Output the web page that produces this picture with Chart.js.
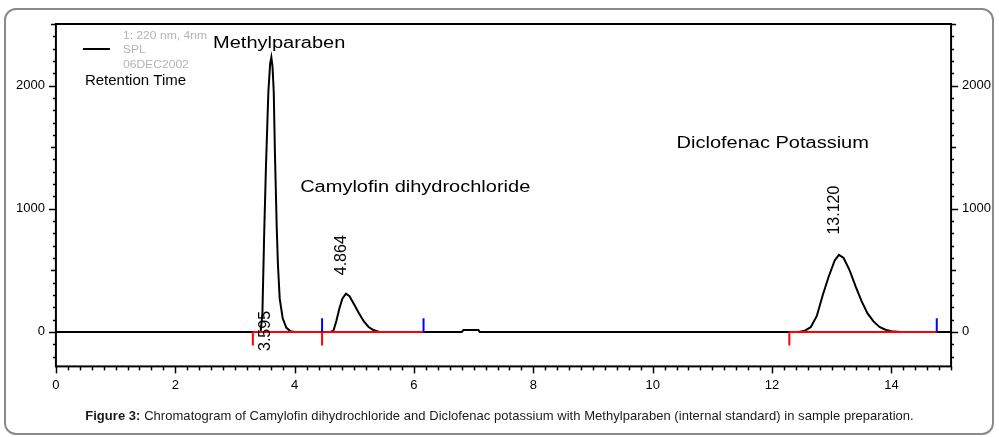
<!DOCTYPE html>
<html>
<head>
<meta charset="utf-8">
<script src="https://cdn.jsdelivr.net/npm/chart.js@4.4.1/dist/chart.umd.min.js"></script>
<style>
    body { margin: 0; background: #fff; }
    #wrap { position: relative; width: 999px; height: 437px; }
    #frame {
        position: absolute; left: 4px; top: 8px; width: 986px; height: 423px;
        border: 2px solid #8a8a8a; border-radius: 12px;
    }
    #chart { position: absolute; left: 0; top: 0; }
    #caption {
        position: absolute; left: 0; width: 999px; top: 408px; text-align: center;
        font: 13px "Liberation Sans", Arial, sans-serif; color: #1a1a1a; letter-spacing: 0.04px;
    }
</style>
</head>
<body>
<div id="wrap">
    <div id="frame"></div>
    <canvas id="chart" width="999" height="437"></canvas>
    <div id="caption"><b>Figure 3:</b> Chromatogram of Camylofin dihydrochloride and Diclofenac potassium with Methylparaben (internal standard) in sample preparation.</div>
</div>
<script>
// Хроматограмма: время удерживания (мин) и сигнал (mAU)
const retentionTime = [0, 3.43, 3.46, 3.49, 3.52, 3.56, 3.59, 3.61, 3.63, 3.65, 3.67, 3.70, 3.72, 3.75, 3.80, 3.86, 3.93, 4.00,
    4.60, 4.65, 4.70, 4.75, 4.80, 4.86, 4.92, 5.00, 5.08, 5.16, 5.24, 5.32, 5.42,
    6.80, 6.83, 7.08, 7.10,
    12.45, 12.55, 12.65, 12.75, 12.85, 12.95, 13.05, 13.12, 13.20, 13.30, 13.40, 13.50, 13.60, 13.70, 13.80, 13.90, 14.00, 14.15, 15];
const signal = [0, 0, 150, 800, 1350, 1950, 2180, 2230, 2150, 1950, 1450, 850, 550, 270, 110, 35, 5, 0,
    0, 10, 90, 190, 270, 310, 290, 220, 150, 85, 40, 15, 0,
    0, 15, 15, 0,
    0, 10, 40, 130, 300, 450, 580, 626, 600, 500, 370, 250, 150, 85, 40, 18, 6, 0, 0];

// Интегрирование: начало и конец базовых линий, метки пиков
const baselineStart = [3.30, 12.29];
const baselineEnd = [6.16, 14.76];
const peakStartMarks = [3.30, 4.46, 12.29];
const peakEndMarks = [4.46, 6.16, 14.76];

const peakTimes = [3.595, 4.864, 13.12];
const peakTimeLabels = ['3.595', '4.864', '13.120'];
const compoundNames = ['Methylparaben', 'Camylofin dihydrochloride', 'Diclofenac Potassium'];
const legendInfo = ['1: 220 nm, 4nm', 'SPL', '06DEC2002'];
const legendTitle = 'Retention Time';

const xTickLabels = [0, 2, 4, 6, 8, 10, 12, 14];
const yTickLabels = [0, 1000, 2000];

const FONT = '"Liberation Sans", Arial, sans-serif';

function buildSeries() {
    return retentionTime.map((t, i) => ({ x: t, y: signal[i] }));
}

function buildSegments(starts, ends) {
    const pts = [];
    starts.forEach((s, i) => {
        pts.push({ x: s, y: 0 }, { x: ends[i], y: 0 }, { x: ends[i], y: null });
    });
    return pts;
}

function buildMarks(times, h) {
    const pts = [];
    times.forEach(t => {
        pts.push({ x: t, y: 0 }, { x: t, y: h }, { x: t, y: null });
    });
    return pts;
}

function drawText(ctx, txt, x, y, font, color, sx) {
    ctx.save();
    ctx.font = font;
    ctx.fillStyle = color;
    ctx.textAlign = 'left';
    ctx.textBaseline = 'alphabetic';
    ctx.translate(x, y);
    ctx.scale(sx || 1, 1);
    ctx.fillText(txt, 0, 0);
    ctx.restore();
}

// Рамка, засечки и подписи
const decorPlugin = {
    id: 'decor',
    afterDraw(chart) {
        const ctx = chart.ctx;
        const a = chart.chartArea;
        const xs = chart.scales.x, ys = chart.scales.y;

        ctx.save();
        ctx.strokeStyle = '#000';
        ctx.lineWidth = 2;
        ctx.strokeRect(a.left, a.top, a.right - a.left, a.bottom - a.top);

        // засечки оси X
        ctx.lineWidth = 1.5;
        xs.ticks.forEach(t => {
            const v = t.value;
            const px = Math.round(xs.getPixelForValue(v)) + 0.5;
            const r = Math.round(v * 10) / 10;
            const len = (Math.abs(r % 2) < 1e-6) ? 7 : 4;
            ctx.beginPath();
            ctx.moveTo(px, a.bottom);
            ctx.lineTo(px, a.bottom + len);
            ctx.stroke();
        });
        // засечки осей Y (слева и справа)
        ys.ticks.forEach(t => {
            const v = t.value;
            const py = Math.round(ys.getPixelForValue(v)) + 0.5;
            const len = (v % 1000 === 0) ? 7 : (v % 500 === 0 ? 5 : 3);
            ctx.beginPath();
            ctx.moveTo(a.left, py);
            ctx.lineTo(a.left - len, py);
            ctx.moveTo(a.right, py);
            ctx.lineTo(a.right + len, py);
            ctx.stroke();
        });
        ctx.restore();

        // названия веществ
        const namePos = [[2.633, 2309], [4.093, 1133], [10.40, 1490]];
        compoundNames.forEach((n, i) => {
            drawText(ctx, n, xs.getPixelForValue(namePos[i][0]), ys.getPixelForValue(namePos[i][1]),
                '16px ' + FONT, '#000', 1.25);
        });

        // времена удерживания (повернутые)
        const labelY = [-155, 460, 790];
        peakTimes.forEach((t, i) => {
            ctx.save();
            ctx.font = '16px ' + FONT;
            ctx.fillStyle = '#000';
            ctx.textAlign = 'left';
            ctx.textBaseline = 'alphabetic';
            ctx.translate(xs.getPixelForValue(t), ys.getPixelForValue(labelY[i]));
            ctx.rotate(-Math.PI / 2);
            ctx.fillText(peakTimeLabels[i], 0, 0);
            ctx.restore();
        });

        // легенда
        ctx.save();
        ctx.strokeStyle = '#000';
        ctx.lineWidth = 2;
        ctx.beginPath();
        ctx.moveTo(a.left + 27, a.top + 25);
        ctx.lineTo(a.left + 54, a.top + 25);
        ctx.stroke();
        ctx.restore();
        legendInfo.forEach((s, i) => {
            drawText(ctx, s, a.left + 67, a.top + 14.5 + i * 14.7, '11px ' + FONT, '#b4b4b4', 1.1);
        });
        drawText(ctx, legendTitle, a.left + 29, a.top + 61, '15px ' + FONT, '#000', 1);
    }
};

function yTicks(axis) {
    const arr = [];
    for (let v = -200; v <= 2500; v += 100) arr.push({ value: v });
    axis.ticks = arr;
}

function yAxis(pos) {
    return {
        type: 'linear',
        position: pos,
        min: -280,
        max: 2500,
        afterBuildTicks: yTicks,
        border: { display: false },
        grid: { drawOnChartArea: false, drawTicks: true, tickLength: 7, tickColor: 'transparent' },
        ticks: {
            autoSkip: false,
            padding: 4,
            color: '#000',
            font: { family: FONT, size: 13 },
            callback: v => yTickLabels.includes(v) ? String(v) : ''
        }
    };
}

const ctx = document.getElementById('chart').getContext('2d');
new Chart(ctx, {
    type: 'scatter',
    data: {
        datasets: [
            {
                data: buildSegments(baselineStart, baselineEnd),
                showLine: true, borderColor: '#ff0000', borderWidth: 2,
                pointRadius: 0, spanGaps: false, order: 1
            },
            {
                data: buildMarks(peakStartMarks, -110),
                showLine: true, borderColor: '#ff0000', borderWidth: 2,
                pointRadius: 0, spanGaps: false, order: 1
            },
            {
                data: buildMarks(peakEndMarks, 110),
                showLine: true, borderColor: '#0000ff', borderWidth: 2,
                pointRadius: 0, spanGaps: false, order: 0
            },
            {
                data: buildSeries(),
                showLine: true, borderColor: '#000', borderWidth: 2,
                pointRadius: 0, tension: 0, order: 2
            }
        ]
    },
    options: {
        responsive: false,
        animation: false,
        layout: { padding: { left: 12, right: 4, top: 24, bottom: 41 } },
        plugins: {
            legend: { display: false },
            tooltip: { enabled: false }
        },
        scales: {
            x: {
                type: 'linear',
                min: 0,
                max: 15,
                afterBuildTicks: axis => {
                    const arr = [];
                    for (let i = 0; i <= 75; i++) arr.push({ value: Math.round(i * 2) / 10 });
                    axis.ticks = arr;
                },
                border: { display: false },
                grid: { drawOnChartArea: false, drawTicks: true, tickLength: 8, tickColor: 'transparent' },
                ticks: {
                    autoSkip: false,
                    maxRotation: 0,
                    padding: 3,
                    color: '#000',
                    font: { family: FONT, size: 13 },
                    callback: v => xTickLabels.includes(v) ? String(v) : ''
                }
            },
            y: yAxis('left'),
            y2: yAxis('right')
        }
    },
    plugins: [decorPlugin]
});
</script>
</body>
</html>
